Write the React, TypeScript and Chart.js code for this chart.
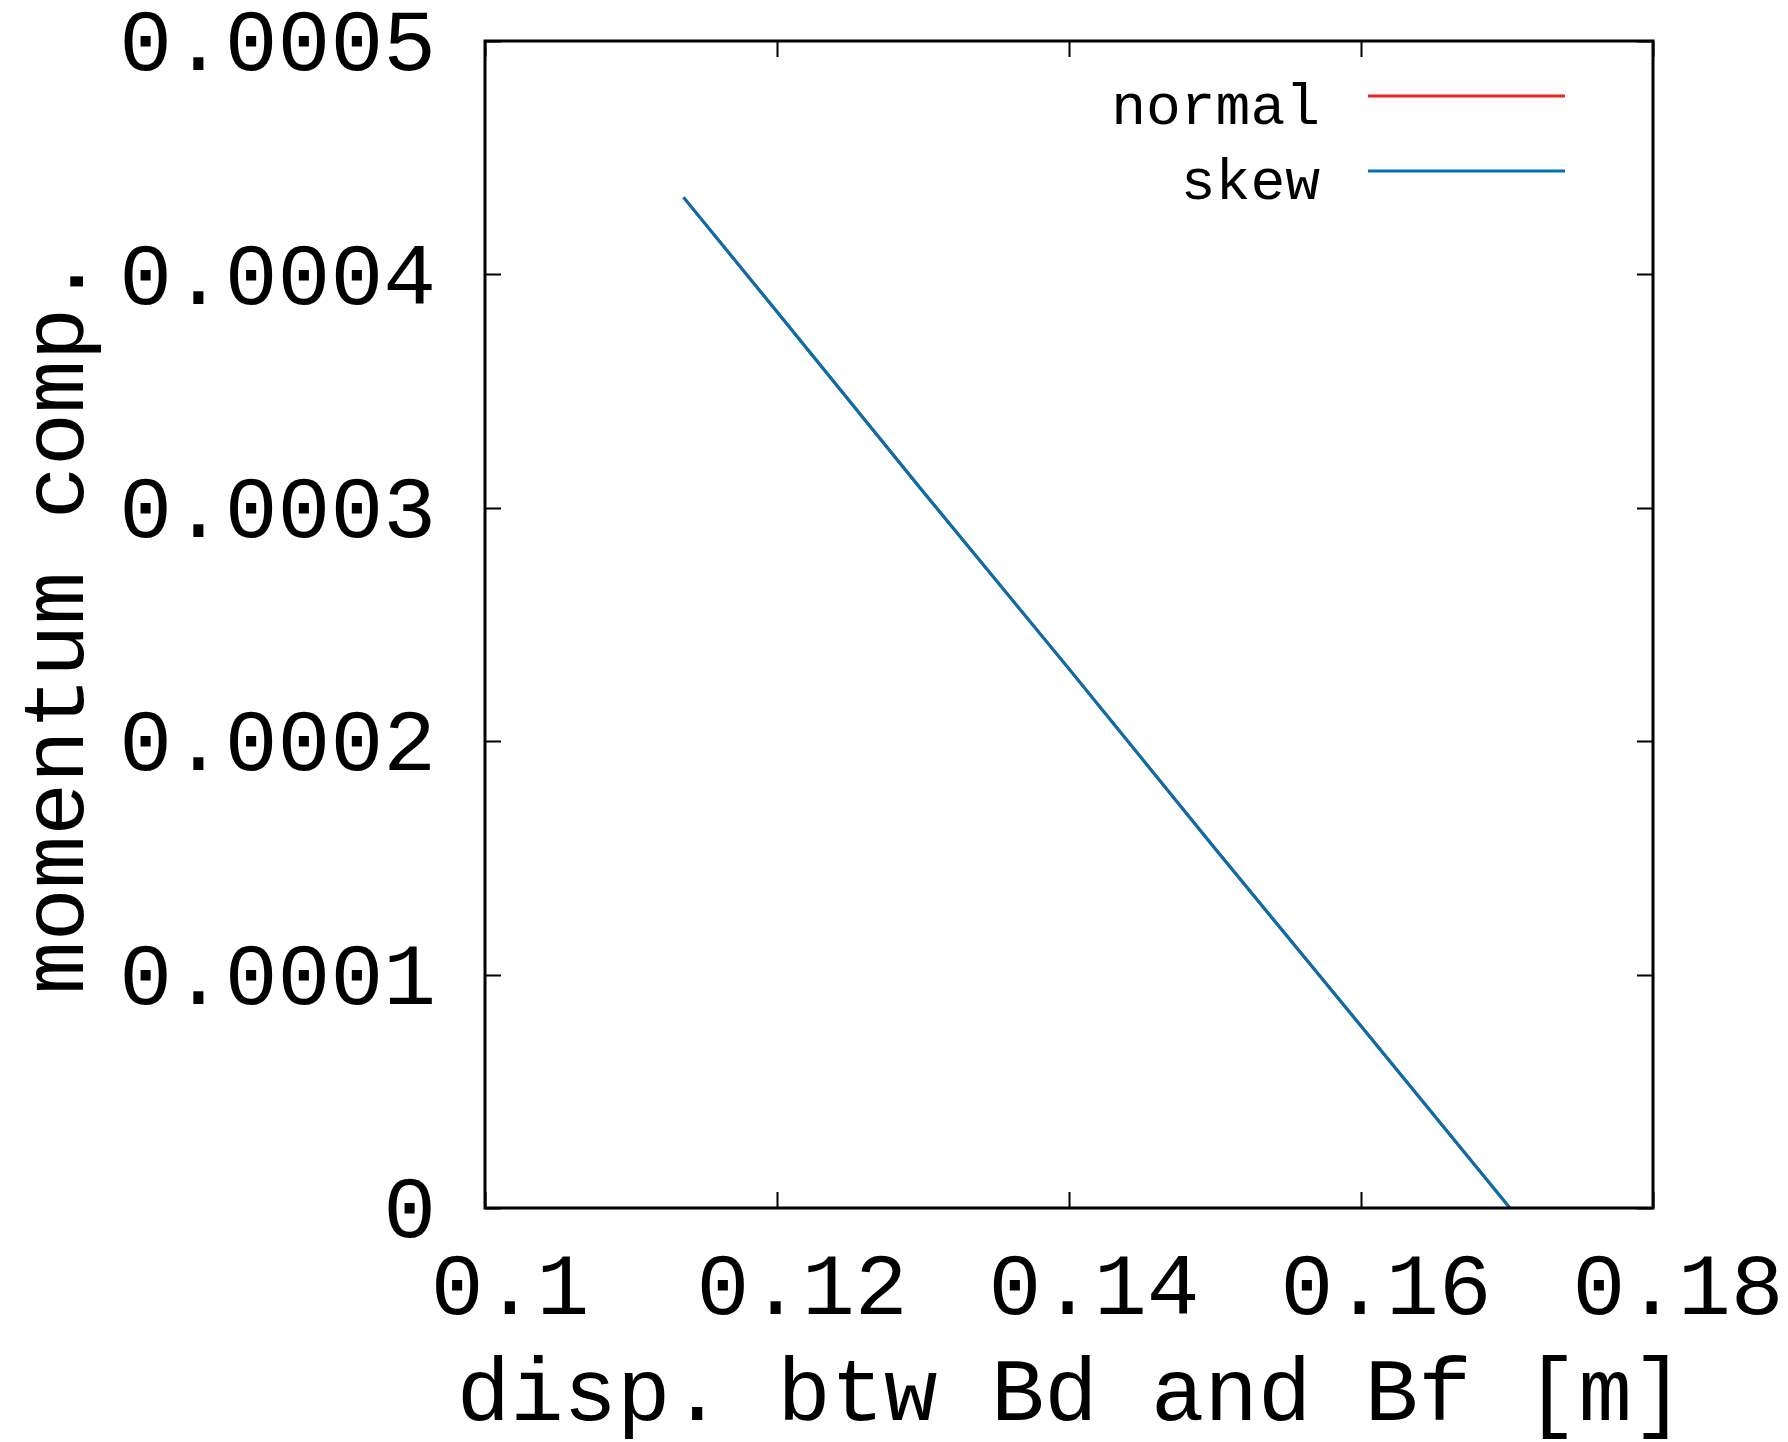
import React, { useEffect, useRef } from "react";
import { Chart, registerables } from "chart.js";

Chart.register(...registerables);

// Data
const dispValues = [0.1136, 0.12, 0.13, 0.14, 0.15, 0.16, 0.1702];
const normalValues = [0.000433, 0.000384, 0.000307, 0.000231, 0.000154, 0.000078, 0.0];
const skewValues = [0.000433, 0.000384, 0.000307, 0.000231, 0.000154, 0.000078, 0.0];
const seriesNames = ["normal", "skew"];
const seriesColors = ["rgb(228,38,28)", "rgb(0,114,178)"];
const xTitle = "disp. btw Bd and Bf [m]";
const yTitle = "momentum comp.";

const FONT = "'Liberation Mono', 'Courier New', monospace";

const framePlugin = {
  id: "frame",
  afterDatasetsDraw(chart: any) {
    const { ctx, chartArea } = chart;
    const { left, right, top, bottom } = chartArea;
    ctx.save();
    ctx.strokeStyle = "#000";
    // inward ticks
    ctx.lineWidth = 2;
    const tl = 16;
    const xs = chart.scales.x;
    const ys = chart.scales.y;
    ctx.beginPath();
    xs.ticks.forEach((t: any) => {
      const px = Math.round(xs.getPixelForValue(t.value)) + 0.5;
      ctx.moveTo(px, bottom);
      ctx.lineTo(px, bottom - tl);
      ctx.moveTo(px, top);
      ctx.lineTo(px, top + tl);
    });
    ys.ticks.forEach((t: any) => {
      const py = Math.round(ys.getPixelForValue(t.value)) + 0.5;
      ctx.moveTo(left, py);
      ctx.lineTo(left + tl, py);
      ctx.moveTo(right, py);
      ctx.lineTo(right - tl, py);
    });
    ctx.stroke();
    // border
    ctx.lineWidth = 3;
    ctx.strokeRect(left, top, right - left, bottom - top);
    ctx.restore();
  },
  afterDraw(chart: any) {
    const { ctx, chartArea } = chart;
    ctx.save();
    // x axis title (drawn here so it is not squeezed to the plot width)
    ctx.font = `89px ${FONT}`;
    ctx.fillStyle = "#000";
    ctx.textAlign = "center";
    ctx.textBaseline = "alphabetic";
    ctx.fillText(xTitle, (chartArea.left + chartArea.right) / 2 + 2, 1420);
    // legend
    ctx.font = `58px ${FONT}`;
    ctx.textAlign = "right";
    const rows = [96, 171];
    chart.data.datasets.forEach((ds: any, i: number) => {
      const y = rows[i];
      ctx.fillText(ds.label, 1320, y + 28);
      ctx.strokeStyle = ds.borderColor;
      ctx.lineWidth = 3;
      ctx.beginPath();
      ctx.moveTo(1368, y);
      ctx.lineTo(1565, y);
      ctx.stroke();
    });
    ctx.restore();
  },
};

export default function App() {
  const canvasRef = useRef<HTMLCanvasElement | null>(null);

  useEffect(() => {
    const canvas = canvasRef.current;
    if (!canvas) return;
    const toPts = (ys: number[]) => dispValues.map((x, i) => ({ x, y: ys[i] }));
    const chart = new Chart(canvas, {
      type: "line",
      data: {
        datasets: [
          {
            label: seriesNames[0],
            data: toPts(normalValues),
            borderColor: seriesColors[0],
            backgroundColor: seriesColors[0],
            borderWidth: 3,
            pointRadius: 0,
            tension: 0,
            fill: false,
            order: 1,
          },
          {
            label: seriesNames[1],
            data: toPts(skewValues),
            borderColor: seriesColors[1],
            backgroundColor: seriesColors[1],
            borderWidth: 3,
            pointRadius: 0,
            tension: 0,
            fill: false,
            order: 0,
          },
        ],
      },
      options: {
        responsive: false,
        animation: false,
        devicePixelRatio: 1,
        layout: { padding: { top: 41, right: 135, left: 0, bottom: 0 } },
        plugins: {
          legend: { display: false },
          tooltip: { enabled: false },
        },
        scales: {
          x: {
            type: "linear",
            min: 0.1,
            max: 0.18,
            grid: { display: false, drawTicks: false },
            border: { display: false },
            afterFit: (s: any) => {
              s.height = 234;
              s.paddingLeft = 0;
              s.paddingRight = 0;
            },
            ticks: {
              stepSize: 0.02,
              color: "#000",
              padding: 30,
              labelOffset: 25,
              maxRotation: 0,
              autoSkip: false,
              font: { family: FONT, size: 88, lineHeight: 1.2 },
              callback: (v: any) => parseFloat(Number(v).toFixed(2)).toString(),
            },
            title: { display: false, text: xTitle },
          },
          y: {
            type: "linear",
            min: 0,
            max: 0.0005,
            grid: { display: false, drawTicks: false },
            border: { display: false },
            afterFit: (s: any) => {
              s.width = 485;
              s.paddingTop = 0;
              s.paddingBottom = 0;
            },
            ticks: {
              stepSize: 0.0001,
              color: "#000",
              padding: 49,
              labelOffset: 6,
              autoSkip: false,
              font: { family: FONT, size: 88, lineHeight: 1.2 },
              callback: (v: any) => {
                const n = Number(v);
                return Math.abs(n) < 1e-12 ? "0" : n.toFixed(4);
              },
            },
            title: {
              display: true,
              text: yTitle,
              color: "#000",
              padding: { top: 7, bottom: 0 },
              font: { family: FONT, size: 88, lineHeight: 1.2 },
            },
          },
        },
      },
      plugins: [framePlugin],
    } as any);
    return () => chart.destroy();
  }, []);

  return (
    <div style={{ position: "fixed", left: 0, top: 0, width: 1788, height: 1442, background: "#fff" }}>
      <canvas ref={canvasRef} width={1788} height={1442} style={{ width: 1788, height: 1442, display: "block" }} />
    </div>
  );
}
